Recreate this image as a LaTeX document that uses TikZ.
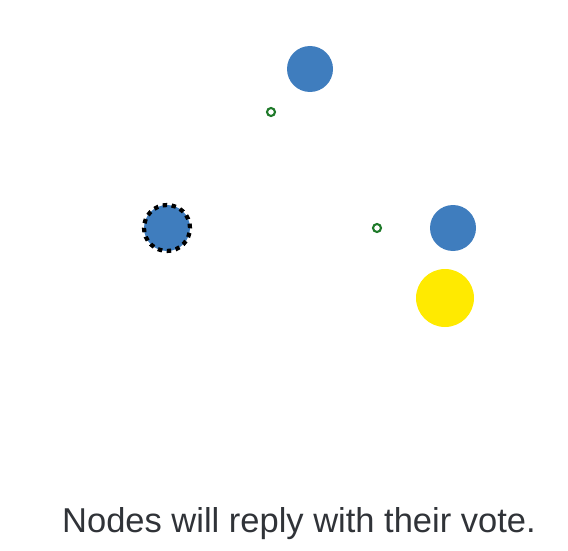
\documentclass[tikz,border=0pt]{standalone}
\usepackage{fontspec}
\setmainfont{Liberation Sans}
\usetikzlibrary{positioning}

\definecolor{peerblue}{HTML}{3F7DBE}
\definecolor{msggreen}{HTML}{1F7A2A}
\definecolor{voteyellow}{HTML}{FFEA00}
\definecolor{captiongray}{HTML}{303338}

\begin{document}
\begin{tikzpicture}[x=1pt,y=-1pt,node distance=1cm,align=center,
	peer/.style={circle,fill=peerblue,minimum size=46pt,inner sep=0pt},
	msg/.style={circle,draw=msggreen,line width=2.1pt,minimum size=8pt,inner sep=0pt},
	leader/.style={peer,draw=black,line width=4.2pt,dash pattern=on 4.4pt off 4.6pt},
	vote/.style={circle,fill=voteyellow,minimum size=58pt,inner sep=0pt}]
		\useasboundingbox (0,0) rectangle (568,551);
		\node[peer] (p_top) at (310,69) {};
		\node[msg] (m_top) at (271,112) {};
		\node[leader] (p_lead) at (167,228) {};
		\node[msg] (m_right) at (377,228) {};
		\node[peer] (p_right) at (453,228) {};
		\node[vote] (v_0) at (445,298) {};
		\node[text=captiongray,font=\fontsize{34.5}{40}\selectfont,anchor=base] (cap) at (299,532) {Nodes will reply with their vote.};
	\end{tikzpicture}
\end{document}
